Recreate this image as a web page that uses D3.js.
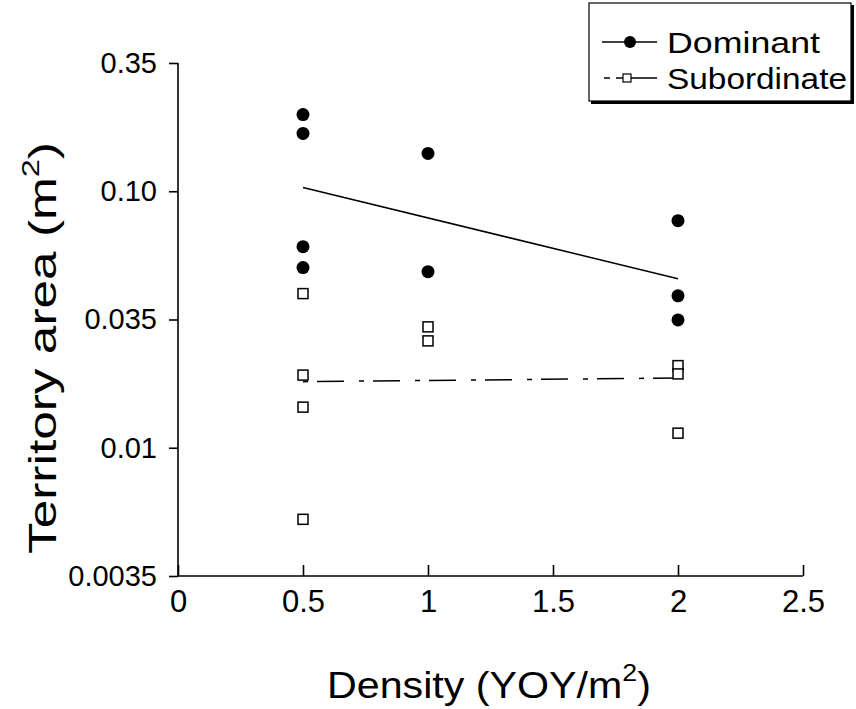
<!DOCTYPE html>
<html>
<head>
<meta charset="utf-8">
<script src="https://cdn.jsdelivr.net/npm/d3@7"></script>
<style>
  body { margin: 0; background: #fff; }
  svg { font-family: 'Liberation Sans', Arial, sans-serif; }
</style>
</head>
<body>
<svg id="chart" width="856" height="709"></svg>
<script>
// x positions (YOY/m2)
const densities = [0.5, 0.5, 0.5, 0.5, 1, 1, 2, 2, 2];
const dominant = [0.199, 0.168, 0.0608, 0.0504, 0.1404, 0.0486, 0.0768, 0.0391, 0.0315];

const subDensities = [0.5, 0.5, 0.5, 0.5, 1, 1, 2, 2, 2];
const subordinate = [0.0399, 0.0192, 0.0144, 0.00526, 0.0296, 0.0261, 0.0209, 0.0194, 0.0114];

// fitted lines (end points)
const fitX = [0.5, 2];
const dominantFit = [0.1034, 0.0456];
const subordinateFit = [0.0181, 0.0187];

const xTicks = [0, 0.5, 1, 1.5, 2, 2.5];
// half-decade ticks, labelled the way the figure labels them
const yTicks = [Math.pow(10, -2.5), 0.01, Math.pow(10, -1.5), 0.1, Math.pow(10, -0.5)];
const yTickLabels = ['0.0035', '0.01', '0.035', '0.10', '0.35'];

const svg = d3.select('#chart');

const x = d3.scaleLinear().domain([0, 2.5]).range([178, 803]);
const y = d3.scaleLog().domain([Math.pow(10, -2.5), Math.pow(10, -0.5)]).range([576, 63]);

// y axis, ticks pointing out
svg.append('g')
  .attr('transform', `translate(${x(0)},0)`)
  .call(d3.axisLeft(y).tickValues(yTicks).tickSize(9).tickPadding(12)
    .tickFormat((d, i) => yTickLabels[i]))
  .call((g) => g.select('.domain').attr('d', `M0,${y.range()[1]}V${y.range()[0]}`))
  .call((g) => g.selectAll('line, path').attr('stroke', '#000').attr('stroke-width', 1.6))
  .call((g) => g.selectAll('text').attr('font-size', 29).attr('fill', '#000'));

// x axis, ticks pointing in
svg.append('g')
  .attr('transform', `translate(0,${y.range()[0]})`)
  .call(d3.axisBottom(x).tickValues(xTicks).tickSize(-11).tickPadding(14)
    .tickFormat(d3.format('')))
  .call((g) => g.select('.domain').attr('d', `M${x.range()[0]},0H${x.range()[1]}`))
  .call((g) => g.selectAll('line, path').attr('stroke', '#000').attr('stroke-width', 1.6))
  .call((g) => g.selectAll('text').attr('font-size', 31).attr('fill', '#000'));

// axis titles (the original face is wider than Arial, so stretch to length)
const xTitle = svg.append('text')
  .attr('x', 489).attr('y', 698)
  .attr('text-anchor', 'middle').attr('font-size', 37)
  .attr('textLength', 324).attr('lengthAdjust', 'spacingAndGlyphs');
xTitle.append('tspan').text('Density (YOY/m');
xTitle.append('tspan').attr('font-size', 24).attr('dy', -17).text('2');
xTitle.append('tspan').attr('dy', 17).text(')');

const yTitle = svg.append('text')
  .attr('transform', 'translate(56,348) rotate(-90)')
  .attr('text-anchor', 'middle').attr('font-size', 38)
  .attr('textLength', 412).attr('lengthAdjust', 'spacingAndGlyphs');
yTitle.append('tspan').text('Territory area (m');
yTitle.append('tspan').attr('font-size', 24).attr('dy', -17).text('2');
yTitle.append('tspan').attr('dy', 17).text(')');

// regression lines
const line = d3.line().x((d) => x(d[0])).y((d) => y(d[1]));

svg.append('path')
  .datum(fitX.map((d, i) => [d, dominantFit[i]]))
  .attr('d', line)
  .attr('fill', 'none').attr('stroke', '#000').attr('stroke-width', 1.5);

svg.append('path')
  .datum(fitX.map((d, i) => [d, subordinateFit[i]]))
  .attr('d', line)
  .attr('fill', 'none').attr('stroke', '#000').attr('stroke-width', 1.5)
  .attr('stroke-dasharray', '5,9,27,15');

// points
svg.selectAll('circle.dom')
  .data(dominant)
  .enter()
  .append('circle')
  .attr('class', 'dom')
  .attr('cx', (d, i) => x(densities[i]))
  .attr('cy', (d) => y(d))
  .attr('r', 6.5)
  .attr('fill', '#000');

svg.selectAll('rect.sub')
  .data(subordinate)
  .enter()
  .append('rect')
  .attr('class', 'sub')
  .attr('x', (d, i) => x(subDensities[i]) - 5)
  .attr('y', (d) => y(d) - 5)
  .attr('width', 10)
  .attr('height', 10)
  .attr('fill', '#fff')
  .attr('stroke', '#000')
  .attr('stroke-width', 1.5);

// legend with a little drop shadow
const legend = svg.append('g');
legend.append('rect')
  .attr('x', 591).attr('y', 5).attr('width', 263).attr('height', 99)
  .attr('fill', '#000');
legend.append('rect')
  .attr('x', 589).attr('y', 3).attr('width', 262).attr('height', 98)
  .attr('fill', '#fff').attr('stroke', '#000').attr('stroke-width', 1.2);

legend.append('line')
  .attr('x1', 602).attr('x2', 657).attr('y1', 42).attr('y2', 42)
  .attr('stroke', '#000').attr('stroke-width', 1.5);
legend.append('circle')
  .attr('cx', 630).attr('cy', 42).attr('r', 6).attr('fill', '#000');
legend.append('text')
  .attr('x', 667).attr('y', 53).attr('font-size', 30)
  .attr('textLength', 153).attr('lengthAdjust', 'spacingAndGlyphs')
  .text('Dominant');

legend.append('line')
  .attr('x1', 604).attr('x2', 657).attr('y1', 78).attr('y2', 78)
  .attr('stroke', '#000').attr('stroke-width', 1.5)
  .attr('stroke-dasharray', '6,6,60');
legend.append('rect')
  .attr('x', 623).attr('y', 74).attr('width', 8).attr('height', 8)
  .attr('fill', '#fff').attr('stroke', '#000').attr('stroke-width', 1.2);
legend.append('text')
  .attr('x', 667).attr('y', 89).attr('font-size', 30)
  .attr('textLength', 180).attr('lengthAdjust', 'spacingAndGlyphs')
  .text('Subordinate');
</script>
</body>
</html>
